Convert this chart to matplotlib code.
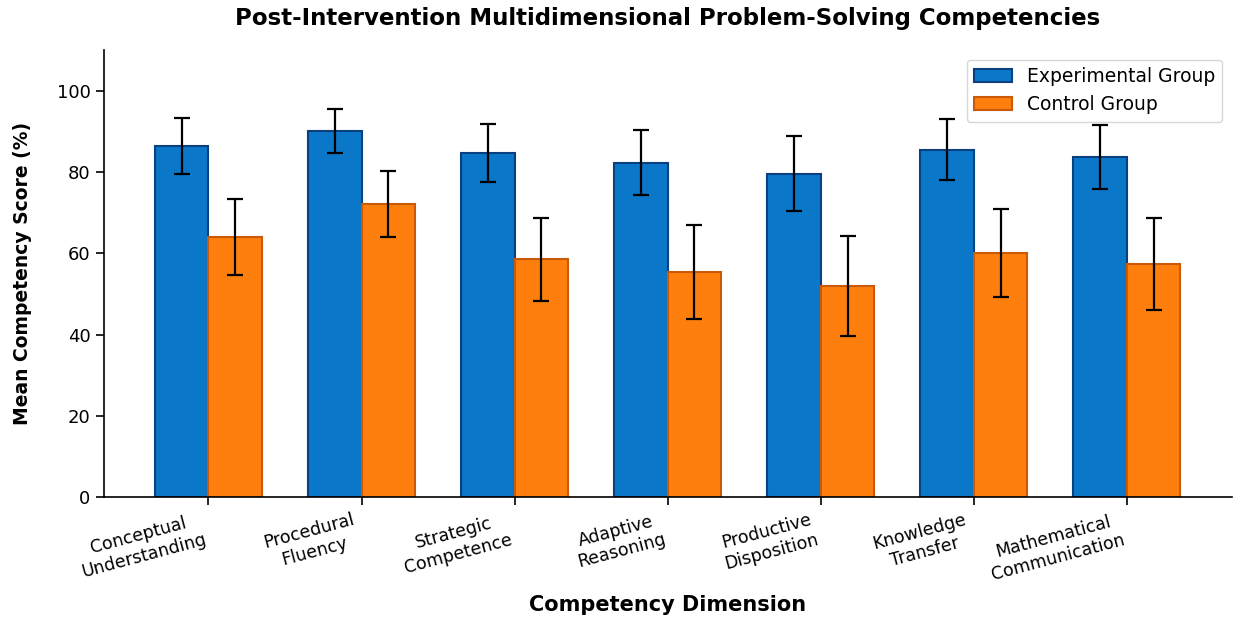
import numpy as np
import matplotlib.pyplot as plt

categories = ["Conceptual\nUnderstanding", "Procedural\nFluency", "Strategic\nCompetence",
              "Adaptive\nReasoning", "Productive\nDisposition", "Knowledge\nTransfer",
              "Mathematical\nCommunication"]
exp_mean = [86.5, 90.1, 84.7, 82.3, 79.6, 85.5, 83.7]
exp_err = [6.9, 5.4, 7.2, 8.0, 9.2, 7.5, 7.8]
ctrl_mean = [64.0, 72.2, 58.6, 55.4, 52.0, 60.1, 57.4]
ctrl_err = [9.3, 8.1, 10.2, 11.6, 12.3, 10.8, 11.3]

x = np.arange(len(categories))
width = 0.35

fig = plt.figure(figsize=(12.33, 6.2), dpi=100)
ax = fig.add_axes([0.084, 0.198, 0.915, 0.721])

ax.bar(x - width/2, exp_mean, width, yerr=exp_err, capsize=6,
       color="#0b77c9", edgecolor="#0a3f80", linewidth=1.5,
       error_kw=dict(ecolor="black", elinewidth=1.6, capthick=1.6),
       label="Experimental Group")
ax.bar(x + width/2, ctrl_mean, width, yerr=ctrl_err, capsize=6,
       color="#ff7f0e", edgecolor="#c85a08", linewidth=1.5,
       error_kw=dict(ecolor="black", elinewidth=1.6, capthick=1.6),
       label="Control Group")

ax.set_ylim(0, 110)
ax.set_xticks(x)
ax.set_xticklabels(categories, rotation=15, ha="right", multialignment="center",
                   fontsize=12.5, linespacing=1.2)
ax.tick_params(axis="y", labelsize=13)
ax.tick_params(length=6, width=1.2)
ax.spines["top"].set_visible(False)
ax.spines["right"].set_visible(False)
ax.spines["left"].set_linewidth(1.2)
ax.spines["bottom"].set_linewidth(1.2)

ax.set_xlabel("Competency Dimension", fontsize=15, fontweight="bold", labelpad=8)
ax.set_ylabel("Mean Competency Score (%)", fontsize=13.5, fontweight="bold", labelpad=18)
ax.set_title("Post-Intervention Multidimensional Problem-Solving Competencies",
             fontsize=16.5, fontweight="bold", pad=18)
ax.legend(loc="upper right", fontsize=13.5)

fig.savefig("out.png", dpi=100)
